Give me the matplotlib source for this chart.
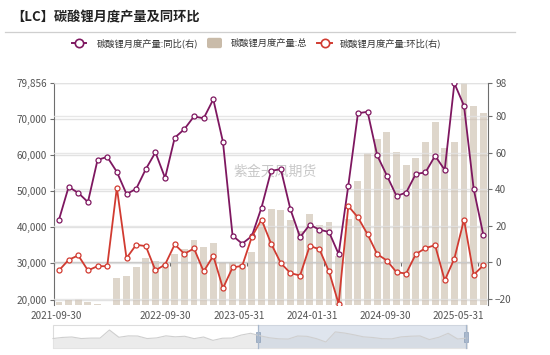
import numpy as np
import matplotlib.pyplot as plt
from matplotlib.patches import Rectangle, FancyBboxPatch

plt.rcParams['font.family'] = ['Noto Sans CJK SC', 'DejaVu Sans']

# monthly data, 2021-09 .. 2025-05 (45 months)
output = [19410, 19770, 20240, 19300, 18860, 18400, 26000, 26490, 28960, 31510,
          30740, 29840, 32520, 33900, 36420, 34580, 35620, 30470, 30050, 29920,
          33070, 40800, 45060, 44680, 41930, 38970, 43630, 40620, 41440, 32100,
          42180, 52880, 60420, 64530, 66260, 60910, 57160, 59270, 63740, 69200,
          62010, 63660, 79856, 73450, 71690]
yoy = [23.4, 41.3, 38.0, 33.0, 56.1, 57.7, 49.5, 37.4, 40.2, 51.0,
       60.2, 46.2, 68.2, 72.9, 79.9, 78.8, 89.2, 66.0, 14.6, 10.2,
       14.4, 30.0, 50.1, 51.0, 29.0, 13.8, 20.6, 17.9, 16.6, 4.5,
       42.0, 81.6, 82.4, 58.5, 47.5, 36.3, 38.2, 48.4, 49.2, 58.3,
       50.6, 98.0, 85.7, 40.2, 15.1]
mom = [-4.4, 1.4, 3.8, -4.4, -2.1, -2.1, 40.9, 2.3, 9.6, 8.9,
       -4.4, -1.2, 9.8, 4.7, 7.6, -5.0, 3.6, -14.2, -2.8, -1.9,
       14.0, 23.4, 10.2, -0.4, -5.9, -7.2, 9.0, 7.2, -5.0, -22.7,
       30.8, 24.6, 15.3, 4.5, 1.0, -5.4, -6.1, 4.5, 7.8, 9.4,
       -9.9, 2.1, 23.4, -6.8, -1.7]

label_idx = [0, 12, 20, 28, 36, 44]
label_txt = ['2021-09-30', '2022-09-30', '2023-05-31', '2024-01-31', '2024-09-30', '2025-05-31']
left_ticks = [20000, 30000, 40000, 50000, 60000, 70000, 79856]
right_ticks = [-20, 0, 20, 40, 60, 80, 98]

PURPLE = '#7e1760'
RED = '#d13b31'
BAR = '#c9bba9'
AXC = '#6e6e6e'
GRID = '#e2e2e2'
TXT = '#555555'

l_lo, l_hi = 18400, 79856
r_lo, r_hi = -23.5, 98

fig = plt.figure(figsize=(5.5, 3.55), dpi=100)
ax = fig.add_axes([0.0985, 0.14, 0.789, 0.6254])
x = np.arange(len(output))

ax.bar(x, output, width=0.72, color=BAR, alpha=0.6, zorder=2)
ax.set_xlim(-0.5, len(output) - 0.5)
ax.set_ylim(l_lo, l_hi)
ax.set_yticks(left_ticks)
ax.set_yticklabels([f'{v:,}' for v in left_ticks])
ax.grid(axis='y', color=GRID, lw=1)
ax.set_axisbelow(True)
for s in ['top', 'right', 'bottom']:
    ax.spines[s].set_visible(False)
ax.spines['left'].set_color(AXC)
ax.tick_params(axis='y', colors=AXC, labelcolor=TXT, labelsize=7.2, length=3, pad=2)
# echarts lays the date labels slightly off the category centres
ax.set_xticks([i * 0.948 - 0.31 for i in label_idx])
ax.set_xticklabels(label_txt)
ax.tick_params(axis='x', length=0, labelsize=7.2, labelcolor=TXT, pad=4)

ax.text(0.509, 0.6, '紫金天风期货', transform=ax.transAxes, ha='center', va='center',
        fontsize=10, color='#c8c8c8', zorder=1)

# category axis line sits on the right-axis zero
ax3 = ax.twiny()
y0 = l_lo + (0 - r_lo) / (r_hi - r_lo) * (l_hi - l_lo)
ax3.set_xlim(ax.get_xlim())
for s in ['top', 'left', 'right']:
    ax3.spines[s].set_visible(False)
ax3.spines['bottom'].set_position(('data', y0))
ax3.spines['bottom'].set_color(AXC)
ax3.xaxis.set_ticks_position('bottom')
ax3.set_xticks([i - 0.5 for i in label_idx])
ax3.set_xticklabels([])
ax3.tick_params(axis='x', colors=AXC, length=3, direction='out')

ax2 = ax.twinx()
ax2.set_ylim(r_lo, r_hi)
ax2.set_yticks(right_ticks)
ax2.grid(axis='y', color=GRID, lw=1, alpha=0.8)
for s in ['top', 'left', 'bottom']:
    ax2.spines[s].set_visible(False)
ax2.spines['right'].set_color(AXC)
ax2.tick_params(axis='y', colors=AXC, labelcolor=TXT, labelsize=7.2, length=3, pad=2)

ax2.plot(x, yoy, color=PURPLE, lw=1.3, marker='o', ms=3.6, mfc='white', mec=PURPLE, mew=0.9, zorder=3)
ax2.plot(x, mom, color=RED, lw=1.3, marker='o', ms=3.6, mfc='white', mec=RED, mew=0.9, zorder=4)

# overlay in pixel coords: title, legend, zoom slider
ov = fig.add_axes([0, 0, 1, 1])
ov.set_xlim(0, 550)
ov.set_ylim(355, 0)
ov.axis('off')

ov.text(11, 17, '【LC】碳酸锂月度产量及同环比', fontsize=9.5, fontweight='bold',
        ha='left', va='center', color='#222222')
ov.plot([5, 515], [32.3, 32.3], color='#cfcfcf', lw=0.9)

ly = 43
ov.plot([72, 86], [ly, ly], color=PURPLE, lw=1.4)
ov.plot([79], [ly], 'o', ms=6, mfc='white', mec=PURPLE, mew=1.2)
ov.text(97, ly, '碳酸锂月度产量:同比(右)', fontsize=6.7, color='#333333', va='center')
ov.add_patch(FancyBboxPatch((207, 37.8), 15, 10.4, boxstyle='round,pad=0,rounding_size=2',
                            fc=BAR, ec='none'))
ov.text(231, ly, '碳酸锂月度产量:总', fontsize=6.7, color='#333333', va='center')
ov.plot([317, 332], [ly, ly], color=RED, lw=1.4)
ov.plot([324.5], [ly], 'o', ms=6, mfc='white', mec=RED, mew=1.2)
ov.text(340, ly, '碳酸锂月度产量:环比(右)', fontsize=6.7, color='#333333', va='center')

sx0, sx1, sy0, sy1 = 53, 467, 325, 348
sel0, sel1 = 258, 466
ov.add_patch(Rectangle((sx0, sy0), sx1 - sx0, sy1 - sy0, fc='none', ec='#dcdcdc', lw=0.8))
m = np.array(mom)
xs = np.linspace(sx0, sx1, len(m))
ys = 337 - (m - m.mean()) / (m.max() - m.min()) * 12
ov.fill_between(xs, ys, sy1, color='#ebebeb', lw=0)
ov.plot(xs, ys, color='#cfcfcf', lw=0.8)
ov.add_patch(Rectangle((sel0, sy0), sel1 - sel0, sy1 - sy0, fc='#c6d0e0', alpha=0.55, ec='none'))
for hx in [sel0, sel1]:
    ov.plot([hx, hx], [sy0, sy1], color='#a9b8cc', lw=0.9)
    ov.add_patch(Rectangle((hx - 2, 331.5), 4, 10, fc='#a9b8cc', ec='#8c9fb8', lw=0.5))

fig.savefig('out.png', dpi=100)
